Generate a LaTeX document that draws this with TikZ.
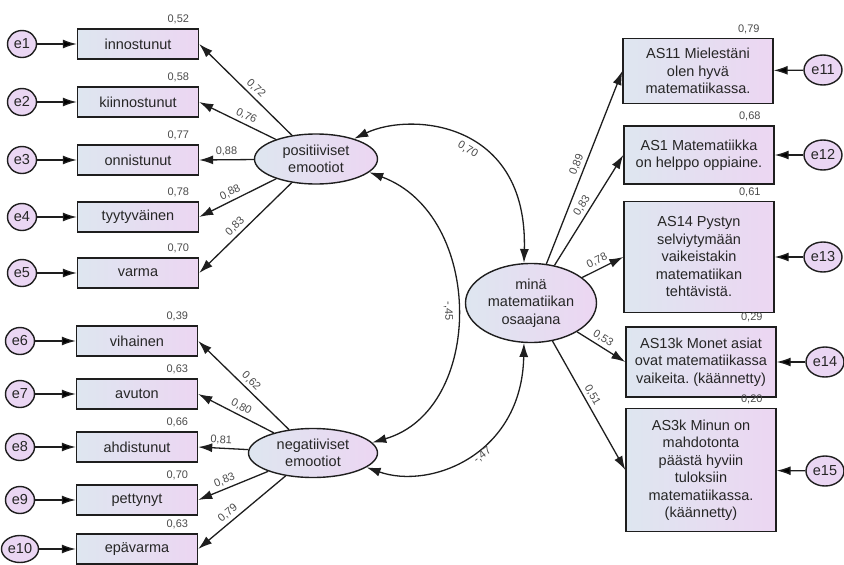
\documentclass[tikz,border=0pt]{standalone}
\usepackage{fontspec}
\setmainfont{Liberation Sans}
\usetikzlibrary{shapes.geometric,arrows.meta}
\definecolor{fillleft}{RGB}{222,230,240}
\definecolor{fillright}{RGB}{236,214,242}
\definecolor{errfill}{RGB}{234,214,243}
\definecolor{linegray}{RGB}{30,30,30}
\definecolor{numgray}{RGB}{75,75,75}
\frenchspacing
\begin{document}
\begin{tikzpicture}[x=1pt, y=-1pt,
    every node/.style={font=\fontsize{14.5}{17.5}\selectfont, text=black!85},
    obs/.style={rectangle, draw=linegray, line width=1.4pt, left color=fillleft, right color=fillright, minimum width=121pt, minimum height=30pt, align=center, inner sep=1pt},
    lat/.style={ellipse, draw=linegray, line width=1.4pt, left color=fillleft, right color=fillright, minimum width=123pt, minimum height=50pt, align=center, inner sep=1pt},
    err/.style={ellipse, draw=linegray, line width=1.4pt, fill=errfill, minimum width=29pt, minimum height=27pt, inner sep=1pt},
    num/.style={font=\fontsize{11}{13}\selectfont, text=numgray, inner sep=2pt},
    arr/.style={draw=linegray, line width=1.3pt, -{Latex[length=14pt,width=9pt]}},
    cov/.style={draw=linegray, line width=1.3pt, {Latex[length=14pt,width=9pt]}-{Latex[length=14pt,width=9pt]}}]
  \useasboundingbox (0,0) rectangle (844,565);
  % latent variables
  \node[lat] (pos) at (316,159) {positiiviset\\emootiot};
  \node[lat, minimum width=129pt, minimum height=49pt] (neg) at (313,453) {negatiiviset\\emootiot};
  \node[lat, minimum width=131pt, minimum height=79pt] (mina) at (531,303) {minä\\matematiikan\\osaajana};
  % left items
  \node[obs] (v1) at (138,44) {innostunut};
  \node[obs] (v2) at (138,102) {kiinnostunut};
  \node[obs] (v3) at (138,160) {onnistunut};
  \node[obs] (v4) at (138,217) {tyytyväinen};
  \node[obs] (v5) at (138,273) {varma};
  \node[obs] (v6) at (137,341) {vihainen};
  \node[obs] (v7) at (137,394) {avuton};
  \node[obs] (v8) at (137,447) {ahdistunut};
  \node[obs] (v9) at (137,500) {pettynyt};
  \node[obs] (v10) at (137,549) {epävarma};
  \node[err] (e1) at (22,44) {e1};
  \node[err] (e2) at (22,102) {e2};
  \node[err] (e3) at (22,160) {e3};
  \node[err] (e4) at (22,217) {e4};
  \node[err] (e5) at (22,273) {e5};
  \node[err] (e6) at (20,341) {e6};
  \node[err] (e7) at (20,394) {e7};
  \node[err] (e8) at (20,447) {e8};
  \node[err] (e9) at (20,500) {e9};
  \node[err] (e10) at (20,549) {e10};
  % right items
  \node[obs, minimum width=150pt, minimum height=65pt] (v11) at (698,71) {AS11 Mielestäni\\olen hyvä\\matematiikassa.};
  \node[obs, minimum width=150pt, minimum height=58pt] (v12) at (699,155) {AS1 Matematiikka\\on helppo oppiaine.};
  \node[obs, minimum width=150pt, minimum height=111pt] (v13) at (699,257) {AS14 Pystyn\\selviytymään\\vaikeistakin\\matematiikan\\tehtävistä.};
  \node[obs, minimum width=150pt, minimum height=70pt] (v14) at (701,362) {AS13k Monet asiat\\ovat matematiikassa\\vaikeita. (käännetty)};
  \node[obs, minimum width=150pt, minimum height=123pt] (v15) at (701,470) {AS3k Minun on\\mahdotonta\\päästä hyviin\\tuloksiin\\matematiikassa.\\(käännetty)};
  \node[err, minimum width=38pt, minimum height=30pt] (e11) at (823,70) {e11};
  \node[err, minimum width=38pt, minimum height=30pt] (e12) at (823,155) {e12};
  \node[err, minimum width=38pt, minimum height=30pt] (e13) at (823,257) {e13};
  \node[err, minimum width=38pt, minimum height=30pt] (e14) at (825,362) {e14};
  \node[err, minimum width=38pt, minimum height=30pt] (e15) at (825,471) {e15};
  % squared multiple correlations
  \foreach \i/\val in {1/{0,52}, 2/{0,58}, 3/{0,77}, 4/{0,78}, 5/{0,70}, 6/{0,39}, 7/{0,63}, 8/{0,66}, 9/{0,70}, 10/{0,63}}
    \node[num, anchor=south east] (r\i) at ([xshift=-8pt, yshift=2pt]v\i.north east) {\val};
  \foreach \i/\val in {11/{0,79}, 12/{0,68}, 13/{0,61}, 14/{0,29}, 15/{0,20}}
    \node[num, anchor=south east] (r\i) at ([xshift=-12pt, yshift=2pt]v\i.north east) {\val};
  % errors
  \foreach \i in {1,...,15}
    \path[arr] (e\i) edge (v\i);
  % loadings
  \foreach \dest/\val/\p in {v1/{0,72}/0.45, v2/{0,76}/0.43, v3/{0,88}/0.5, v4/{0,88}/0.55, v5/{0,83}/0.55}
    \draw[arr] (pos) -- node[num, sloped, above=1pt, pos=\p] {\val} (\dest.east);
  \foreach \dest/\val/\p in {v6/{0,62}/0.48, v7/{0,80}/0.48, v8/{0,81}/0.55, v9/{0,83}/0.58, v10/{0,79}/0.6}
    \draw[arr] (neg) -- node[num, sloped, above=1pt, pos=\p] {\val} (\dest.east);
  \foreach \dest/\val/\p in {v11/{0,89}/0.5, v12/{0,83}/0.5, v13/{0,78}/0.45, v14/{0,53}/0.45, v15/{0,51}/0.45}
    \draw[arr] (mina) -- node[num, sloped, above=1pt, pos=\p] {\val} (\dest.west);
  % covariances
  \draw[cov] (pos.28) .. controls (410,112) and (528,120) .. node[num, sloped, below=1pt, pos=0.55] {0,70} (mina.100);
  \draw[cov] (pos.-14) .. controls (485,215) and (485,410) .. node[num, sloped, below=1pt, pos=0.5] {-,45} (neg.10);
  \draw[cov] (neg.-15) .. controls (430,490) and (522,455) .. node[num, sloped, below=1pt, pos=0.55] {-,47} (mina.-100);
\end{tikzpicture}
\end{document}
